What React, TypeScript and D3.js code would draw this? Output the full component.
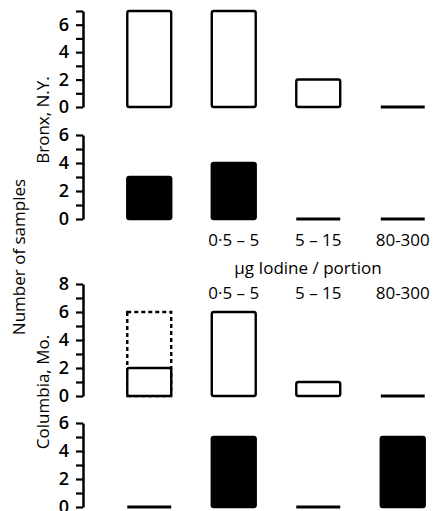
import { useEffect, useRef } from 'react'
import * as d3 from 'd3'

// columns of the chart (first one has no label)
const categories = ['<0.5', '0.5-5', '5-15', '80-300']
const categoryLabels = ['', '0·5 – 5', '5 – 15', '80-300']

const bronxOpen = [7, 7, 2, 0]
const bronxFilled = [3, 4, 0, 0]
const columbiaOpen = [2, 6, 1, 0]
const columbiaOpenDashed = [6, 0, 0, 0]
const columbiaFilled = [0, 5, 0, 5]

const axisMax = [7, 6, 8, 6]

const W = 434
const H = 511
const FONT = '"Open Sans", "DejaVu Sans", sans-serif'
const AXIS_X = 83

const panels = [
    { values: bronxOpen, dashed: null, max: axisMax[0], top: 11, bottom: 107, filled: false },
    { values: bronxFilled, dashed: null, max: axisMax[1], top: 135, bottom: 219, filled: true },
    { values: columbiaOpen, dashed: columbiaOpenDashed, max: axisMax[2], top: 284, bottom: 396, filled: false },
    { values: columbiaFilled, dashed: null, max: axisMax[3], top: 423, bottom: 507, filled: true }
]

const Axis = ({ yScale, max }) => {
    const ref = useRef(null)
    useEffect(() => {
        const axis = d3
            .axisLeft(yScale)
            .tickValues(d3.range(0, max + 1))
            .tickSize(7)
            .tickSizeOuter(0)
            .tickPadding(7)
            .tickFormat((d) => (d % 2 === 0 ? String(d) : ''))
        const g = d3.select(ref.current).call(axis)
        g.attr('font-family', FONT).attr('font-size', 18).attr('font-weight', 600)
        g.select('.domain').attr('stroke', '#000').attr('stroke-width', 2.5)
        g.selectAll('.tick line').attr('stroke', '#000').attr('stroke-width', 2.2)
        g.selectAll('.tick text').attr('fill', '#000')
    }, [yScale, max])
    return <g ref={ref} transform={`translate(${AXIS_X},0)`} />
}

const Panel = ({ panel, xScale }) => {
    const yScale = d3.scaleLinear().domain([0, panel.max]).range([panel.bottom, panel.top])
    const bw = xScale.bandwidth()
    return (
        <g>
            <Axis yScale={yScale} max={panel.max} />
            {panel.dashed &&
                panel.dashed.map((v, i) =>
                    v > 0 ? (
                        <rect
                            key={'d' + i}
                            x={xScale(categories[i])}
                            y={yScale(v)}
                            width={bw}
                            height={yScale(0) - yScale(v)}
                            fill="white"
                            stroke="black"
                            strokeWidth={2.4}
                            strokeDasharray="4,3"
                        />
                    ) : null
                )}
            {panel.values.map((v, i) =>
                v > 0 ? (
                    <rect
                        key={i}
                        x={xScale(categories[i])}
                        y={yScale(v)}
                        width={bw}
                        height={yScale(0) - yScale(v)}
                        rx={2}
                        fill={panel.filled ? 'black' : 'white'}
                        stroke="black"
                        strokeWidth={2.4}
                    />
                ) : (
                    <line
                        key={i}
                        x1={xScale(categories[i])}
                        x2={xScale(categories[i]) + bw}
                        y1={yScale(0)}
                        y2={yScale(0)}
                        stroke="black"
                        strokeWidth={3}
                    />
                )
            )}
        </g>
    )
}

export default function App() {
    const xScale = d3
        .scaleBand()
        .domain(categories)
        .range([107, 445])
        .paddingInner(0.48)
        .paddingOuter(0.24)

    const labelRow = (y) =>
        categories.map((c, i) => (
            <text
                key={c + y}
                x={xScale(c) + xScale.bandwidth() / 2}
                y={y}
                textAnchor="middle"
                fontSize={17}
                fontWeight={500}
                fontFamily={FONT}
            >
                {categoryLabels[i]}
            </text>
        ))

    return (
        <svg
            width={W}
            height={H}
            style={{ position: 'absolute', left: 0, top: 0, background: 'white' }}
        >
            {panels.map((p, i) => (
                <Panel key={i} panel={p} xScale={xScale} />
            ))}
            {labelRow(246)}
            <text x={308} y={274} textAnchor="middle" fontSize={17} fontWeight={500} fontFamily={FONT}>
                µg Iodine / portion
            </text>
            {labelRow(299)}
            <text
                transform="translate(25,257) rotate(-90)"
                textAnchor="middle"
                fontSize={17}
                fontWeight={500}
                fontFamily={FONT}
            >
                Number of samples
            </text>
            <text
                transform="translate(49,120) rotate(-90)"
                textAnchor="middle"
                fontSize={17}
                fontWeight={500}
                fontFamily={FONT}
            >
                Bronx, N.Y.
            </text>
            <text
                transform="translate(49,392) rotate(-90)"
                textAnchor="middle"
                fontSize={17}
                fontWeight={500}
                fontFamily={FONT}
            >
                Columbia, Mo.
            </text>
        </svg>
    )
}
